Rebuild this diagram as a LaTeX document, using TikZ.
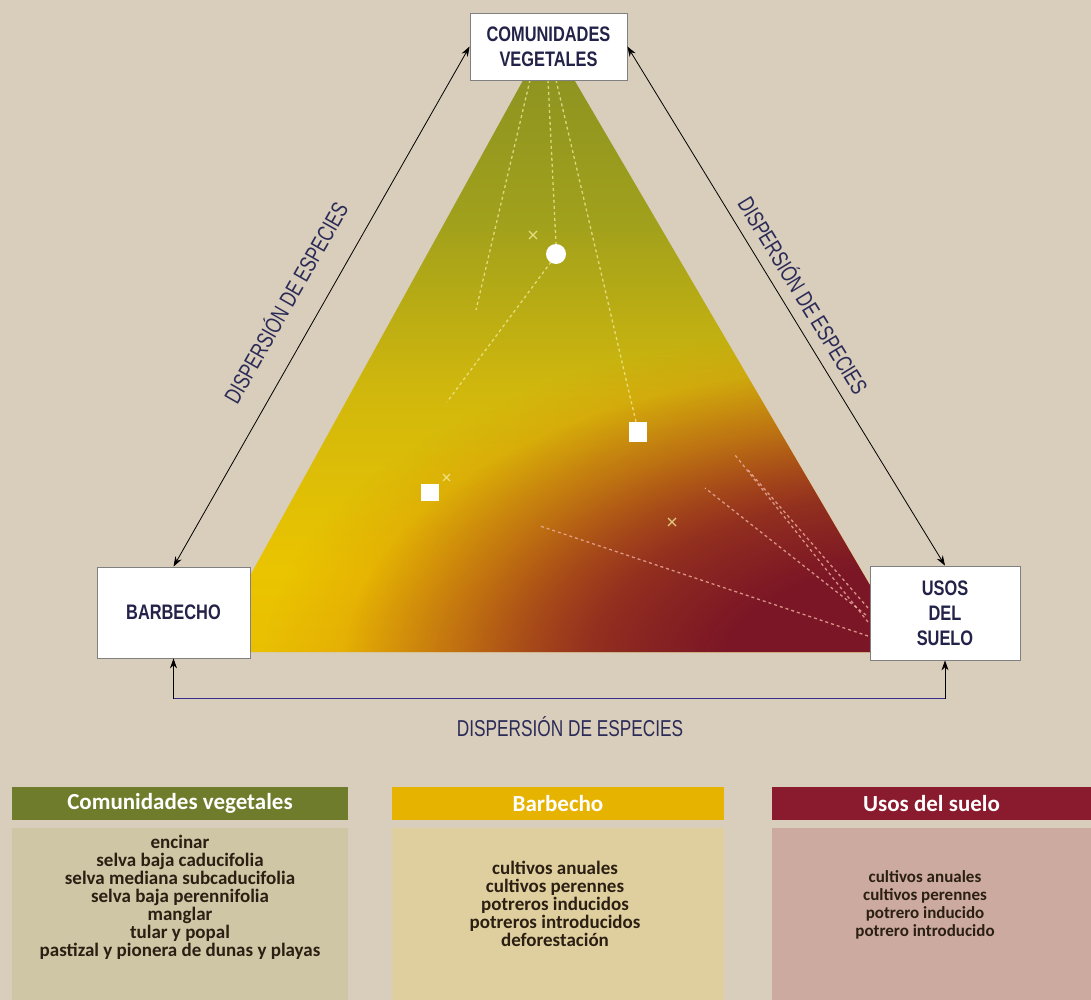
\documentclass[tikz,border=0pt]{standalone}
\usepackage{fontspec}
\setmainfont{Liberation Sans}
\newfontfamily\narrowfont[FakeStretch=0.75]{Liberation Sans}
\newfontfamily\narrowbold[FakeStretch=0.78]{Liberation Sans Bold}
\newfontfamily\panelfont{Carlito}
\usetikzlibrary{arrows.meta,fadings,calc}
\definecolor{bg}{HTML}{D9CDBB}
\definecolor{navy}{HTML}{23234A}
\definecolor{lblc}{HTML}{2B2B58}
\definecolor{indig}{HTML}{3A2E8C}
\definecolor{trired}{HTML}{7B1626}
\definecolor{triorange}{HTML}{D6700E}
\definecolor{g0}{HTML}{E0A010}
\definecolor{g1}{HTML}{E6B408}
\definecolor{g2}{HTML}{EAC400}
\definecolor{g3}{HTML}{D2B80C}
\definecolor{g4}{HTML}{A0A01C}
\definecolor{g5}{HTML}{889022}
\definecolor{g6}{HTML}{7A8626}
\definecolor{hgreen}{HTML}{6E7C2B}
\definecolor{hgold}{HTML}{E6B400}
\definecolor{hred}{HTML}{8A1B2E}
\definecolor{bgreen}{HTML}{CEC6A4}
\definecolor{bgold}{HTML}{E0CF9E}
\definecolor{bred}{HTML}{CDAAA0}
\definecolor{dashy}{HTML}{F2EC9A}
\definecolor{dashr}{HTML}{EEB0A0}
\definecolor{txt}{HTML}{2A1F12}
\pgfdeclareverticalshading{trishade}{100bp}{color(0bp)=(g0); color(12bp)=(g1); color(32bp)=(g2); color(46bp)=(g3); color(60bp)=(g4); color(75bp)=(g5); color(100bp)=(g6)}
\pgfdeclareradialshading{redrad}{\pgfpointorigin}{color(0bp)=(white); color(8bp)=(white); color(14bp)=(black!25); color(20bp)=(black!70); color(25bp)=(black); color(50bp)=(black)}
\pgfdeclarefading{redfade}{\pgfuseshading{redrad}}
\begin{document}
\begin{tikzpicture}[x=1pt,y=-1pt,
  cbox/.style={draw=black!50, line width=0.8pt, fill=white, align=center, text=navy,
    font=\narrowbold\fontsize{21}{25}\selectfont, inner sep=0pt},
  conn/.style={draw=black, line width=0.8pt, {Stealth[length=10pt,width=7pt]}-{Stealth[length=10pt,width=7pt]}},
  lbl/.style={text=lblc, font=\narrowfont\fontsize{23}{26}\selectfont, inner sep=0pt},
  dashl/.style={draw=dashy, line width=1.3pt, dash pattern=on 3pt off 3pt, opacity=0.75},
  dashrl/.style={draw=dashr, line width=1.3pt, dash pattern=on 3pt off 3pt, opacity=0.8},
  xmk/.style={draw=dashy, line width=1.2pt, opacity=0.8},
  hdr/.style={text=white, font=\panelfont\bfseries\fontsize{23}{26}\selectfont, minimum height=33pt, inner sep=0pt},
  body/.style={inner sep=0pt, minimum height=172pt},
  btxt/.style={text=txt, align=center, inner sep=0pt}
]
\fill[bg] (0,0) rectangle (1091,1000);
\useasboundingbox (0,0) rectangle (1091,1000);

% triangle
\coordinate (A) at (548,35);
\coordinate (B) at (208,652);
\coordinate (C) at (909,652);
\begin{scope}
  \clip (A)--(B)--(C)--cycle;
  \shade[shading=trishade] (150,30) rectangle (950,660);
  \fill[triorange, path fading=redfade] (905,665) ellipse [x radius=640, y radius=340];
  \fill[trired, path fading=redfade] (905,665) ellipse [x radius=560, y radius=300];
\end{scope}

% dashed lines
\draw[dashl] (530,80) -- (476,310);
\draw[dashl] (548,80) -- (556,244);
\draw[dashl] (556,80) -- (636,422);
\draw[dashl] (551,262) -- (447,402);
\draw[dashrl] (868,636) -- (540,526);
\draw[dashrl] (868,622) -- (735,455);
\draw[dashrl] (866,615) -- (705,488);
\draw[dashrl] (868,608) -- (748,470);

% marks
\draw[xmk] (529,231) -- (537,239) (537,231) -- (529,239);
\draw[xmk] (668,518) -- (676,526) (676,518) -- (668,526);
\draw[xmk] (443,474) -- (450,481) (450,474) -- (443,481);

% white markers
\fill[white] (556,254) circle (10);
\fill[white] (629,422) rectangle (647,442);
\fill[white] (421,484) rectangle (439,501);

% corner boxes
\node[cbox, minimum width=157pt, minimum height=67pt] (tv) at (548.5,46.5) {COMUNIDADES\\VEGETALES};
\node[cbox, minimum width=153pt, minimum height=91pt] (bar) at (173.5,612.5) {BARBECHO};
\node[cbox, minimum width=150pt, minimum height=94pt] (uso) at (945,613) {USOS\\DEL\\SUELO};

% connectors
\draw[conn] (tv.west) -- (bar.north);
\draw[conn] (tv.east) -- (uso.north);
\coordinate (b1) at ($(bar.south)+(0,40)$);
\coordinate (b2) at (b1 -| uso.south);
\draw[conn] (bar.south) -- (b1) -- (b2) -- (uso.south);
\draw[indig, line width=1.5pt] (b1) -- (b2);

% labels
\path (tv.west) -- (bar.north) node[lbl, sloped, pos=0.524, above=24pt] (l1) {DISPERSIÓN DE ESPECIES};
\path (tv.east) -- (uso.north) node[lbl, sloped, pos=0.5, above=11pt] (l2) {DISPERSIÓN DE ESPECIES};
\node[lbl] (l3) at (570,727) {DISPERSIÓN DE ESPECIES};

% panels
\node[hdr, fill=hgreen, minimum width=336pt] (h1) at (180,803.5) {Comunidades vegetales};
\node[hdr, fill=hgold, minimum width=332pt] (h2) at (558,803.5) {Barbecho};
\node[hdr, fill=hred, minimum width=319pt] (h3) at (931.5,803.5) {Usos del suelo};
\node[body, fill=bgreen, minimum width=336pt] (p1) at (180,914) {};
\node[body, fill=bgold, minimum width=332pt] (p2) at (558,914) {};
\node[body, fill=bred, minimum width=319pt] (p3) at (931.5,914) {};

\node[btxt, font=\panelfont\bfseries\fontsize{19}{18}\selectfont] (t1) at (180,897) {encinar\\selva baja caducifolia\\selva mediana subcaducifolia\\selva baja perennifolia\\manglar\\tular y popal\\pastizal y pionera de dunas y playas};
\node[btxt, font=\panelfont\bfseries\fontsize{19}{18}\selectfont] (t2) at (555,904) {cultivos anuales\\cultivos perennes\\potreros inducidos\\potreros introducidos\\deforestación};
\node[btxt, font=\panelfont\bfseries\fontsize{17}{18}\selectfont] (t3) at (925,905) {cultivos anuales\\cultivos perennes\\potrero inducido\\potrero introducido};
\end{tikzpicture}
\end{document}
